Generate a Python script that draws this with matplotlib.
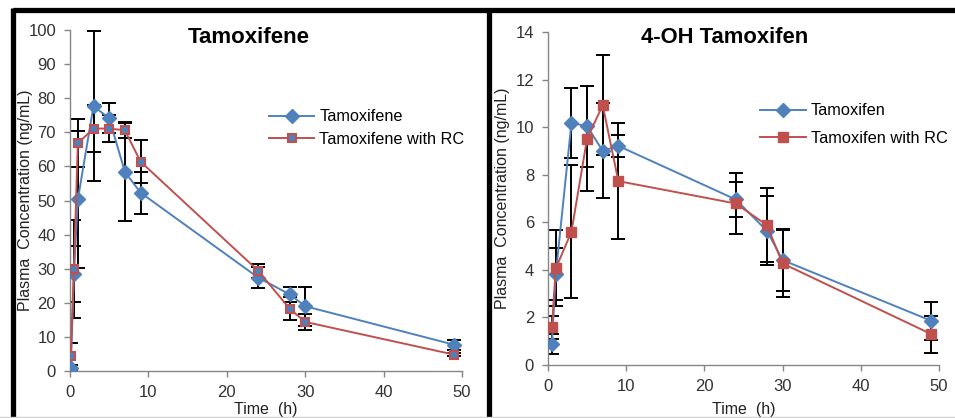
import matplotlib
matplotlib.use('Agg')
import matplotlib.pyplot as plt
from matplotlib.lines import Line2D

plt.rcParams['font.family'] = ['Liberation Sans', 'DejaVu Sans']

# left panel: tamoxifene
t_left = [0.1, 0.5, 1, 3, 5, 7, 9, 24, 28, 30, 49]
tam = [1.0, 28.5, 50.3, 77.7, 74.1, 58.4, 52.3, 27.4, 22.5, 19.0, 7.7]
tam_err = [0.8, 8.3, 20.0, 22.0, 4.4, 14.5, 6.2, 3.2, 2.2, 5.7, 1.4]
tam_rc = [4.3, 30.0, 66.8, 71.1, 71.1, 70.6, 61.4, 29.4, 18.3, 14.4, 4.8]
tam_rc_err = [4.0, 14.4, 7.0, 7.0, 4.0, 2.2, 6.2, 2.0, 3.4, 2.4, 0.5]

# right panel: 4-OH tamoxifen
t_right = [0.5, 1, 3, 5, 7, 9, 24, 28, 30, 49]
oh = [0.88, 3.82, 10.18, 10.04, 9.0, 9.21, 6.96, 5.64, 4.41, 1.86]
oh_err = [0.42, 1.1, 1.48, 1.7, 2.0, 0.45, 0.75, 1.45, 1.3, 0.8]
oh_rc = [1.58, 4.06, 5.6, 9.52, 10.92, 7.73, 6.79, 5.88, 4.27, 1.30]
oh_rc_err = [0.5, 1.6, 2.8, 2.2, 2.1, 2.45, 1.3, 1.55, 1.4, 0.78]

blue = '#4F81BD'
red = '#C0504D'
axis_gray = '#868686'

fig = plt.figure(figsize=(9.55, 4.18), dpi=100)
ax1 = fig.add_axes([0.0733, 0.1124, 0.4105, 0.8158])
ax2 = fig.add_axes([0.5738, 0.1268, 0.4094, 0.7967])


def style(ax, ymax, ystep):
    ax.set_xlim(0, 50)
    ax.set_ylim(0, ymax)
    ax.set_xticks(range(0, 51, 10))
    ax.set_yticks(range(0, ymax + 1, ystep))
    for s in ['top', 'right']:
        ax.spines[s].set_visible(False)
    for s in ['left', 'bottom']:
        ax.spines[s].set_color(axis_gray)
        ax.spines[s].set_linewidth(1.0)
    ax.tick_params(direction='out', length=4, width=1, color=axis_gray,
                   labelsize=12, labelcolor='#333333', pad=6)
    ax.set_ylabel('Plasma  Concentration (ng/mL)', fontsize=11.5, color='#222222')
    ax.set_xlabel('Time  (h)', fontsize=11.5, color='#222222')


# left
ax1.errorbar(t_left, tam, yerr=tam_err, fmt='none', ecolor='black', elinewidth=1.4,
             capsize=5, capthick=1.4, zorder=2)
ax1.errorbar(t_left, tam_rc, yerr=tam_rc_err, fmt='none', ecolor='black', elinewidth=1.4,
             capsize=5, capthick=1.4, zorder=2)
ax1.plot(t_left, tam, color=blue, marker='D', markersize=7, lw=1.4, label='Tamoxifene', zorder=3)
ax1.plot(t_left, tam_rc, color=red, marker='s', markersize=6, mfc=blue, mec=red, mew=1.5,
         lw=1.4, label='Tamoxifene with RC', zorder=3)
style(ax1, 100, 10)
ax1.text(0.456, 0.977, 'Tamoxifene', transform=ax1.transAxes, ha='center', va='center',
         fontsize=16, fontweight='bold')
ax1.legend(loc='upper left', bbox_to_anchor=(0.47, 0.81), frameon=False, fontsize=11.7,
           handlelength=2.8, labelspacing=0.45, handletextpad=0.3)
ax1.yaxis.set_label_coords(-0.094, 0.5)
ax1.xaxis.set_label_coords(0.5, -0.09)

# right
ax2.errorbar(t_right, oh, yerr=oh_err, fmt='none', ecolor='black', elinewidth=1.4,
             capsize=5, capthick=1.4, zorder=2)
ax2.errorbar(t_right, oh_rc, yerr=oh_rc_err, fmt='none', ecolor='black', elinewidth=1.4,
             capsize=5, capthick=1.4, zorder=2)
ax2.plot(t_right, oh, color=blue, marker='D', markersize=7.5, lw=1.4, label='Tamoxifen', zorder=3)
ax2.plot(t_right, oh_rc, color=red, marker='s', markersize=7.5, lw=1.4,
         label='Tamoxifen with RC', zorder=3)
style(ax2, 14, 2)
ax2.text(0.453, 0.982, '4-OH Tamoxifen', transform=ax2.transAxes, ha='center', va='center',
         fontsize=15.8, fontweight='bold')
ax2.legend(loc='upper left', bbox_to_anchor=(0.505, 0.83), frameon=False, fontsize=11.8,
           handlelength=2.8, labelspacing=0.75, handletextpad=0.3)
ax2.yaxis.set_label_coords(-0.097, 0.5)
ax2.xaxis.set_label_coords(0.5, -0.11)

# black frame around panels
W, H = 955.0, 418.0
frame_kw = dict(color='black', lw=3.8, transform=fig.transFigure, solid_capstyle='butt')
fig.add_artist(Line2D([12.5 / W, 1.0], [1 - 9.5 / H] * 2, **frame_kw))
fig.add_artist(Line2D([12.5 / W] * 2, [0, 1 - 8 / H], **frame_kw))
fig.add_artist(Line2D([488.5 / W] * 2, [0, 1 - 8 / H], **frame_kw))
fig.add_artist(Line2D([0, 1], [1.5 / H] * 2, color='#d0d0d0', lw=1,
                      transform=fig.transFigure))

fig.savefig('out.png', dpi=100)
